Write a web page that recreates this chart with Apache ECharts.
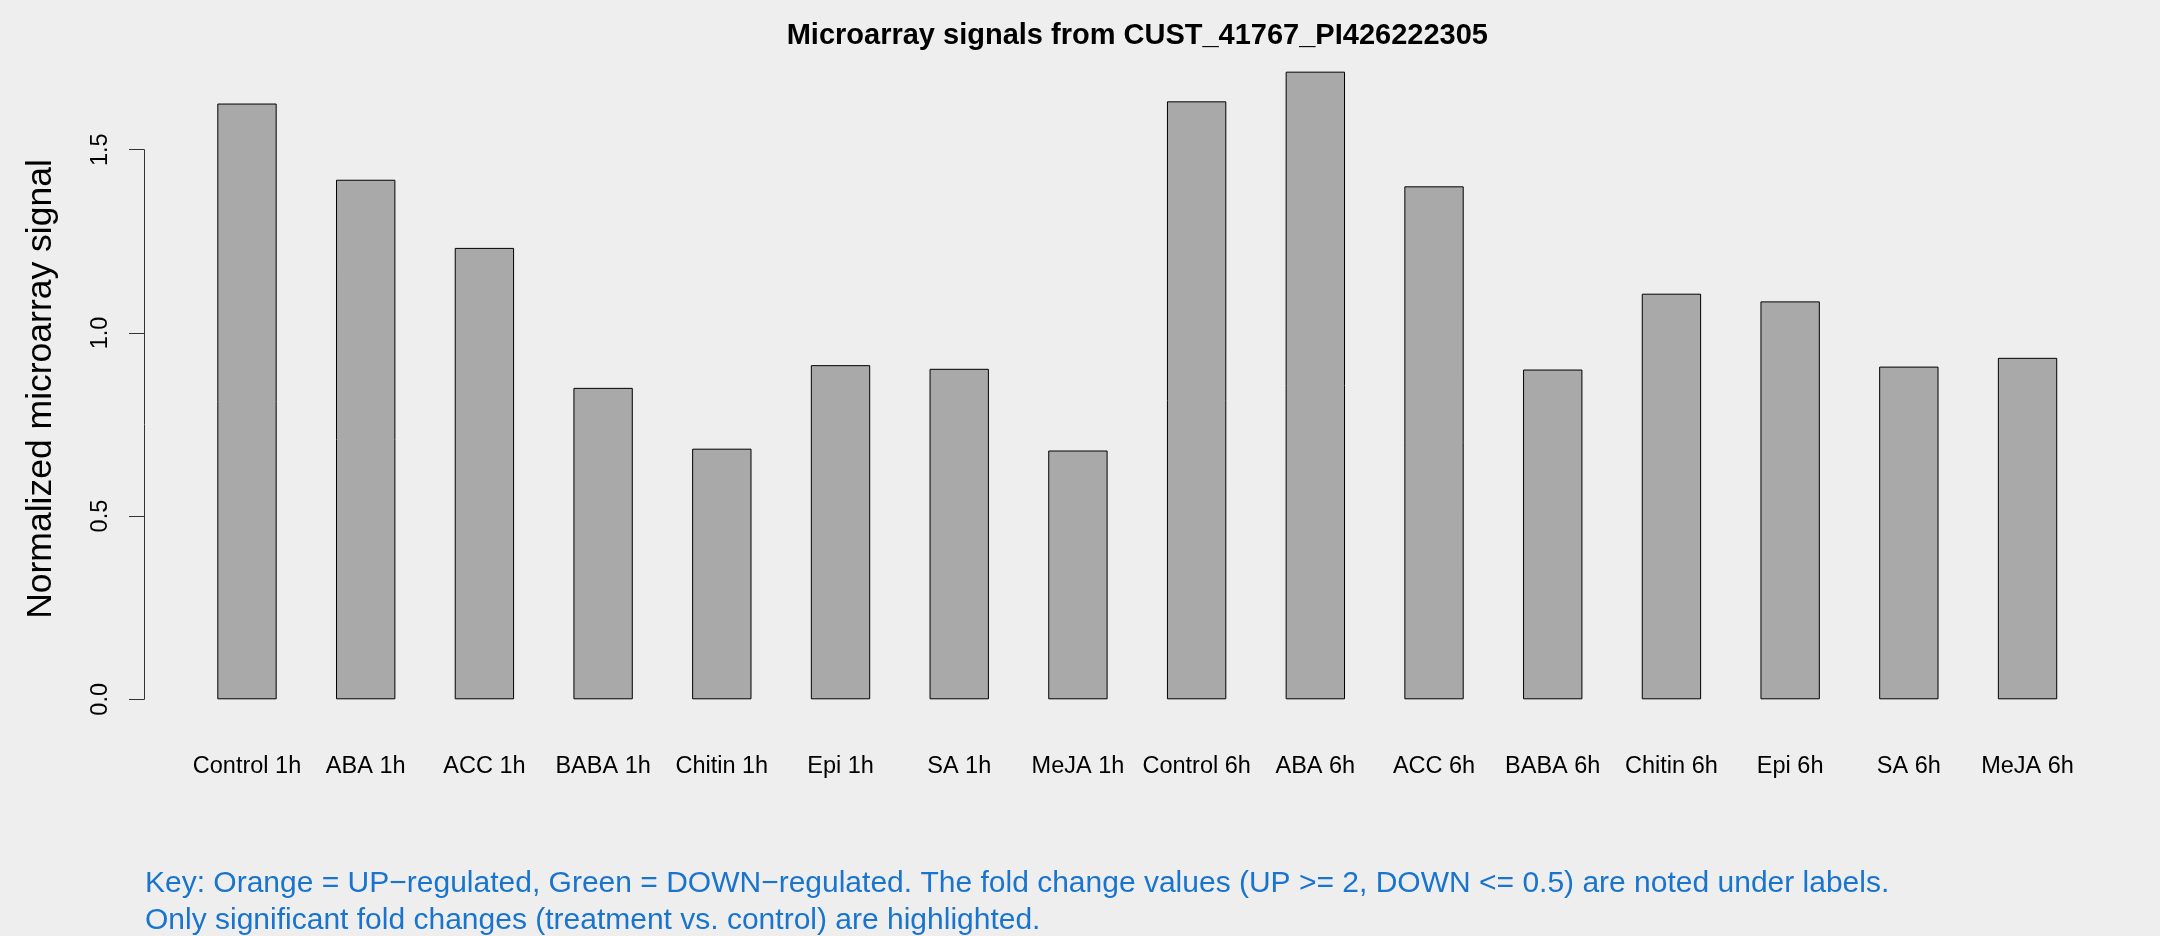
<!DOCTYPE html>
<html>
<head>
<meta charset="utf-8">
<script src="https://cdn.jsdelivr.net/npm/echarts@6/dist/echarts.min.js"></script>
<style>
html,body{margin:0;padding:0;background:#EEEEEE;}
#c{width:2160px;height:936px;}
</style>
</head>
<body>
<div id="c"></div>
<script>
const categories = ["Control 1h","ABA 1h","ACC 1h","BABA 1h","Chitin 1h","Epi 1h","SA 1h","MeJA 1h",
  "Control 6h","ABA 6h","ACC 6h","BABA 6h","Chitin 6h","Epi 6h","SA 6h","MeJA 6h"];
const signalValues = [1.626, 1.418, 1.232, 0.850, 0.684, 0.912, 0.902, 0.679,
  1.632, 1.713, 1.400, 0.900, 1.107, 1.086, 0.908, 0.932];
const yTicks = [0, 0.5, 1.0, 1.5];
const titleText = "Microarray signals from CUST_41767_PI426222305";
const yAxisTitle = "Normalized microarray signal";
const footerLines = [
  "Key: Orange = UP\u2212regulated, Green = DOWN\u2212regulated. The fold change values (UP >= 2, DOWN <= 0.5) are noted under labels.",
  "Only significant fold changes (treatment vs. control) are highlighted."
];

const FONT = "'Liberation Sans', Arial, Helvetica, sans-serif";
const chart = echarts.init(document.getElementById('c'), null, {renderer:'canvas'});
chart.setOption({
  backgroundColor: '#EEEEEE',
  animation: false,
  title: {
    text: titleText,
    left: 1137.3,
    top: 21,
    padding: 0,
    textAlign: 'center',
    textStyle: {fontFamily: FONT, fontWeight: 'bold', fontSize: 29, lineHeight: 29, color: '#000'}
  },
  grid: {left: 187.65, right: 73.1, top: 149.7, bottom: 236.7, containLabel: false, outerBoundsMode: 'none'},
  xAxis: {
    type: 'category',
    data: categories,
    boundaryGap: true,
    axisLine: {show: false},
    axisTick: {show: false},
    axisLabel: {interval: 0, margin: 55, fontFamily: FONT, fontSize: 23.5, lineHeight: 23.5, color: '#000'}
  },
  yAxis: {
    type: 'value',
    min: yTicks[0],
    max: yTicks[yTicks.length - 1],
    interval: 0.5,
    offset: 43.65,
    name: yAxisTitle,
    nameLocation: 'middle',
    nameGap: 85,
    nameTextStyle: {fontFamily: FONT, fontSize: 35.5, lineHeight: 35.5, color: '#000', padding: [0, 0, 0, 71]},
    axisLine: {show: true, lineStyle: {color: '#333', width: 1}},
    axisTick: {show: true, length: 15, lineStyle: {color: '#333', width: 1}},
    splitLine: {show: false},
    axisLabel: {
      rotate: 90, margin: 32, fontFamily: FONT, fontSize: 23.5, lineHeight: 23.5, color: '#000',
      formatter: v => v.toFixed(1)
    }
  },
  series: [{
    type: 'bar',
    data: signalValues,
    clip: false,
    barCategoryGap: '50%',
    itemStyle: {color: '#A9A9A9', borderColor: '#000', borderWidth: 1}
  }],
  graphic: footerLines.map((t, i) => ({
    type: 'text',
    x: 145,
    y: 884 + i * 36.5,
    style: {text: t, fontFamily: FONT, fontSize: 30, fill: '#1874CD', verticalAlign: 'middle', align: 'left'}
  }))
});
</script>
</body>
</html>
